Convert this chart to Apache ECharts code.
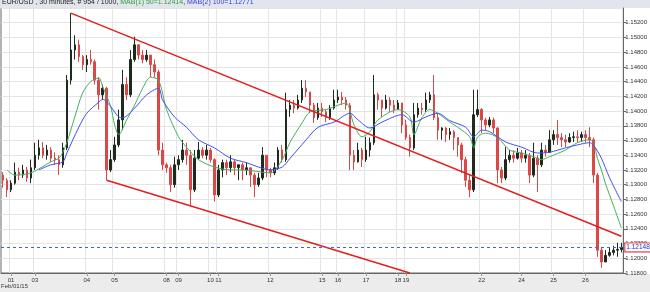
<!DOCTYPE html>
<html><head><meta charset="utf-8">
<script src="https://cdn.jsdelivr.net/npm/echarts@6/dist/echarts.min.js"></script>
<style>html,body{margin:0;padding:0;background:#fff}#c{width:650px;height:292px}</style>
</head><body><div id="c"></div>
<script>
// candles: [open, close, low, high]
const candles = [
[1.1313,1.1306,1.1296,1.1317],[1.1306,1.1293,1.1283,1.1309],[1.1293,1.1302,1.1290,1.1306],[1.1302,1.1317,1.1300,1.1330],
[1.1317,1.1313,1.1306,1.1323],[1.1313,1.1320,1.1309,1.1327],[1.1320,1.1309,1.1304,1.1324],[1.1309,1.1323,1.1302,1.1334],
[1.1323,1.1340,1.1320,1.1357],[1.1340,1.1350,1.1334,1.1361],[1.1350,1.1340,1.1336,1.1358],[1.1340,1.1347,1.1334,1.1354],
[1.1347,1.1336,1.1331,1.1351],[1.1336,1.1334,1.1327,1.1344],[1.1334,1.1327,1.1313,1.1340],[1.1327,1.1350,1.1323,1.1357],
[1.1350,1.1442,1.1347,1.1449],[1.1442,1.1483,1.1436,1.1533],[1.1483,1.1490,1.1470,1.1503],[1.1490,1.1474,1.1467,1.1497],
[1.1474,1.1463,1.1456,1.1476],[1.1463,1.1470,1.1453,1.1476],[1.1470,1.1467,1.1463,1.1483],[1.1467,1.1442,1.1436,1.1470],
[1.1442,1.1422,1.1402,1.1446],[1.1422,1.1431,1.1415,1.1436],[1.1431,1.1320,1.1306,1.1433],[1.1320,1.1334,1.1317,1.1347],
[1.1334,1.1354,1.1331,1.1365],[1.1354,1.1388,1.1351,1.1402],[1.1388,1.1436,1.1374,1.1456],[1.1436,1.1422,1.1415,1.1446],
[1.1422,1.1470,1.1419,1.1483],[1.1470,1.1490,1.1467,1.1501],[1.1490,1.1476,1.1470,1.1490],[1.1476,1.1470,1.1465,1.1483],
[1.1470,1.1476,1.1467,1.1483],[1.1476,1.1463,1.1446,1.1476],[1.1463,1.1453,1.1446,1.1470],[1.1453,1.1347,1.1340,1.1456],
[1.1347,1.1327,1.1320,1.1357],[1.1327,1.1323,1.1316,1.1330],[1.1323,1.1300,1.1290,1.1327],[1.1300,1.1327,1.1296,1.1338],
[1.1327,1.1334,1.1320,1.1340],[1.1334,1.1347,1.1330,1.1361],[1.1347,1.1340,1.1327,1.1357],[1.1340,1.1293,1.1272,1.1347],
[1.1293,1.1336,1.1290,1.1347],[1.1336,1.1347,1.1334,1.1358],[1.1347,1.1340,1.1336,1.1351],[1.1340,1.1347,1.1334,1.1354],
[1.1347,1.1334,1.1330,1.1350],[1.1334,1.1286,1.1277,1.1336],[1.1286,1.1320,1.1283,1.1327],[1.1320,1.1330,1.1310,1.1334],
[1.1330,1.1323,1.1313,1.1334],[1.1323,1.1331,1.1317,1.1340],[1.1331,1.1323,1.1313,1.1334],[1.1323,1.1327,1.1306,1.1327],
[1.1327,1.1320,1.1306,1.1330],[1.1320,1.1323,1.1313,1.1330],[1.1323,1.1313,1.1297,1.1323],[1.1313,1.1300,1.1283,1.1316],
[1.1300,1.1309,1.1297,1.1316],[1.1309,1.1340,1.1306,1.1351],[1.1340,1.1320,1.1310,1.1340],[1.1320,1.1316,1.1310,1.1323],
[1.1316,1.1323,1.1313,1.1330],[1.1323,1.1347,1.1320,1.1351],[1.1347,1.1334,1.1330,1.1354],[1.1334,1.1402,1.1331,1.1425],
[1.1402,1.1408,1.1392,1.1415],[1.1408,1.1404,1.1397,1.1415],[1.1404,1.1415,1.1402,1.1422],[1.1415,1.1431,1.1411,1.1442],
[1.1431,1.1426,1.1419,1.1442],[1.1426,1.1408,1.1397,1.1426],[1.1408,1.1391,1.1384,1.1411],[1.1391,1.1404,1.1388,1.1411],
[1.1404,1.1399,1.1392,1.1411],[1.1399,1.1391,1.1385,1.1402],[1.1391,1.1404,1.1388,1.1408],[1.1404,1.1415,1.1402,1.1429],
[1.1415,1.1419,1.1411,1.1429],[1.1419,1.1415,1.1408,1.1426],[1.1415,1.1408,1.1402,1.1419],[1.1408,1.1340,1.1320,1.1411],
[1.1340,1.1331,1.1320,1.1347],[1.1331,1.1347,1.1330,1.1357],[1.1347,1.1334,1.1324,1.1350],[1.1334,1.1347,1.1331,1.1365],
[1.1347,1.1357,1.1338,1.1364],[1.1357,1.1422,1.1354,1.1449],[1.1422,1.1415,1.1402,1.1425],[1.1415,1.1404,1.1392,1.1415],
[1.1404,1.1415,1.1402,1.1422],[1.1415,1.1408,1.1399,1.1419],[1.1408,1.1402,1.1397,1.1415],[1.1402,1.1411,1.1402,1.1415],
[1.1411,1.1381,1.1370,1.1411],[1.1381,1.1364,1.1361,1.1388],[1.1364,1.1350,1.1338,1.1368],[1.1350,1.1395,1.1347,1.1411],
[1.1395,1.1404,1.1391,1.1411],[1.1404,1.1402,1.1395,1.1411],[1.1402,1.1415,1.1399,1.1425],[1.1415,1.1422,1.1411,1.1426],
[1.1422,1.1391,1.1388,1.1449],[1.1391,1.1374,1.1361,1.1397],[1.1374,1.1377,1.1361,1.1378],[1.1377,1.1368,1.1358,1.1378],
[1.1368,1.1372,1.1361,1.1377],[1.1372,1.1364,1.1347,1.1374],[1.1364,1.1354,1.1338,1.1364],[1.1354,1.1334,1.1316,1.1357],
[1.1334,1.1306,1.1297,1.1338],[1.1306,1.1293,1.1283,1.1313],[1.1293,1.1395,1.1290,1.1429],[1.1395,1.1402,1.1392,1.1429],
[1.1402,1.1388,1.1370,1.1404],[1.1388,1.1381,1.1374,1.1391],[1.1381,1.1388,1.1378,1.1392],[1.1388,1.1377,1.1370,1.1391],
[1.1377,1.1320,1.1302,1.1378],[1.1320,1.1309,1.1302,1.1324],[1.1309,1.1334,1.1306,1.1351],[1.1334,1.1340,1.1330,1.1347],
[1.1340,1.1336,1.1330,1.1347],[1.1336,1.1343,1.1334,1.1350],[1.1343,1.1336,1.1330,1.1347],[1.1336,1.1340,1.1330,1.1347],
[1.1340,1.1313,1.1302,1.1343],[1.1313,1.1336,1.1310,1.1357],[1.1336,1.1327,1.1290,1.1340],[1.1327,1.1347,1.1324,1.1357],
[1.1347,1.1344,1.1338,1.1354],[1.1344,1.1361,1.1343,1.1374],[1.1361,1.1368,1.1354,1.1374],[1.1368,1.1364,1.1354,1.1388],
[1.1364,1.1361,1.1351,1.1370],[1.1361,1.1358,1.1351,1.1368],[1.1358,1.1364,1.1357,1.1370],[1.1364,1.1365,1.1358,1.1372],
[1.1365,1.1364,1.1357,1.1374],[1.1364,1.1368,1.1358,1.1372],[1.1368,1.1364,1.1357,1.1374],[1.1364,1.1361,1.1351,1.1378],
[1.1361,1.1313,1.1302,1.1364],[1.1313,1.1211,1.1202,1.1316],[1.1211,1.1195,1.1187,1.1215],[1.1195,1.1204,1.1195,1.1211],
[1.1204,1.1208,1.1202,1.1215],[1.1208,1.1211,1.1204,1.1217],[1.1211,1.1212,1.1202,1.1221],[1.1212,1.12148,1.1208,1.1221]
];
// moving averages: [candle index, value]
const ma50 = [
[1,1.1320],[3,1.1313],[7,1.1316],[12,1.1331],[14,1.1336],[15,1.1344],[16,1.1357],[18,1.1392],[20,1.1425],[22,1.1440],
[24,1.1445],[25,1.1433],[27,1.1406],[28,1.1381],[29,1.1368],[31,1.1388],[33,1.1408],[35,1.1431],[37,1.1446],[39,1.1442],
[41,1.1402],[44,1.1365],[46,1.1351],[49,1.1334],[53,1.1324],[57,1.1320],[60,1.1320],[67,1.1316],[70,1.1334],[72,1.1358],
[75,1.1384],[77,1.1399],[81,1.1402],[84,1.1408],[86,1.1411],[88,1.1381],[90,1.1365],[92,1.1372],[94,1.1388],[99,1.1402],
[102,1.1392],[103,1.1368],[105,1.1391],[107,1.1402],[109,1.1397],[112,1.1385],[114,1.1378],[117,1.1365],[118,1.1350],
[119,1.1365],[121,1.1370],[124,1.1364],[127,1.1347],[130,1.1343],[133,1.1338],[135,1.1334],[137,1.1338],[141,1.1347],
[144,1.1357],[147,1.1361],[148,1.1357],[149,1.1336],[150,1.1320],[151,1.1302],[153,1.1272],[155,1.12414]
];
const ma100 = [
[9,1.1320],[12,1.1327],[15,1.1331],[16,1.1343],[19,1.1378],[21,1.1397],[24,1.1412],[25,1.1416],[27,1.1406],[29,1.1392],
[30,1.1391],[33,1.1404],[36,1.1422],[39,1.1431],[40,1.1415],[43,1.1392],[46,1.1378],[49,1.1361],[53,1.1350],[57,1.1336],
[61,1.1330],[64,1.1324],[67,1.1320],[70,1.1324],[72,1.1336],[76,1.1361],[79,1.1378],[83,1.1385],[87,1.1397],[89,1.1388],
[92,1.1377],[95,1.1385],[100,1.1395],[103,1.1385],[106,1.1392],[109,1.1397],[112,1.1387],[116,1.1378],[118,1.1365],
[120,1.1374],[122,1.1372],[126,1.1358],[130,1.1351],[134,1.1343],[137,1.1344],[141,1.1350],[144,1.1354],[147,1.1357],
[148,1.1354],[150,1.1336],[152,1.1310],[155,1.12771]
];
const trendUpper = [[17,1.1533],[155,1.1230]];
const trendLower = [[26,1.1306],[102,1.1180]];
const lastPrice = 1.12148;
const dayLabels = ['01','03','04','05','08','09','10','11','12','15','16','17','18','19','22','24','25','26'];
const dayTickIndex = [2,8,21,28,41,44,52,54,67,80,84,91,99,101,120,130,138,146];
const yMin = 1.118, yMax = 1.154, yStep = 0.002;

const cats = candles.map((_, i) => String(i));
const tickMap = new Map(dayTickIndex.map((idx, k) => [idx, dayLabels[k]]));
const isTick = (i) => tickMap.has(i);
const FONT = 'Liberation Sans, Arial, sans-serif';

const chart = echarts.init(document.getElementById('c'), null, {renderer: 'canvas'});
chart.setOption({
  animation: false,
  backgroundColor: '#fff',
  graphic: [
    {type: 'rect', z: 0, shape: {x: 0, y: 0, width: 650, height: 8}, style: {fill: '#e3e5ec'}},
    {type: 'rect', z: 0, shape: {x: 0, y: 274, width: 650, height: 18}, style: {fill: '#ececec'}}
  ],
  title: [
    {left: 2, top: -1, padding: 0,
     text: '{k|EUR/USD , 30 minutes, # 954 / 1000, }{g|MAB(1) 50=1.12414}{k|, }{b|MAB(2) 100=1.12771}',
     textStyle: {fontSize: 7, fontFamily: FONT, fontWeight: 'normal',
       rich: {k: {color: '#222', fontSize: 7, fontFamily: FONT},
              g: {color: '#2e9a3e', fontSize: 7, fontFamily: FONT},
              b: {color: '#3040e0', fontSize: 7, fontFamily: FONT}}}},
    {left: 1, top: 283, padding: 0, text: 'Feb/01/15',
     textStyle: {fontSize: 6, fontFamily: FONT, fontWeight: 'normal', color: '#333'}}
  ],
  grid: {left: 1, right: 26, top: 8, bottom: 19, show: true, borderColor: '#666', borderWidth: 1, backgroundColor: '#fff'},
  xAxis: {
    type: 'category', data: cats, boundaryGap: true,
    axisLine: {show: true, lineStyle: {color: '#666'}},
    axisTick: {show: true, alignWithLabel: true, interval: isTick, length: 3, lineStyle: {color: '#999'}},
    axisLabel: {interval: isTick, formatter: (v, i) => tickMap.get(i) || '', fontSize: 6, fontFamily: FONT, color: '#333', margin: 4},
    splitLine: {show: true, interval: isTick, lineStyle: {color: '#e4e4e4', width: 1}}
  },
  yAxis: {
    type: 'value', position: 'right', min: yMin, max: yMax, interval: yStep,
    axisLine: {show: true, lineStyle: {color: '#666'}},
    axisTick: {show: true, length: 3, lineStyle: {color: '#666'}},
    axisLabel: {formatter: v => v.toFixed(5), fontSize: 6, fontFamily: FONT, color: '#333', margin: 2, showMaxLabel: false},
    splitLine: {show: true, lineStyle: {color: '#e4e4e4', width: 1}}
  },
  series: [
    {type: 'candlestick', data: candles, barWidth: 2,
     itemStyle: {color: '#1f2a1f', color0: '#e04848', borderColor: '#1f2a1f', borderColor0: '#d84848', borderWidth: 1}},
    {type: 'line', data: ma50, symbol: 'none', smooth: 0.3, lineStyle: {color: '#44b060', width: 1}, z: 3},
    {type: 'line', data: ma100, symbol: 'none', smooth: 0.3, lineStyle: {color: '#4050ee', width: 1}, z: 3},
    {type: 'line', data: trendUpper, symbol: 'none', lineStyle: {color: '#e02020', width: 1.5}, z: 4,
     markLine: {symbol: 'none', silent: true, animation: false, precision: 5,
       data: [{yAxis: lastPrice}],
       lineStyle: {color: '#4a5cf0', type: [3, 3], width: 1, opacity: 1},
       label: {show: true, position: 'end', distance: 2, formatter: lastPrice.toFixed(5),
         fontSize: 6.5, fontFamily: FONT, color: '#2a2acc', backgroundColor: '#fff',
         borderColor: '#e03030', borderWidth: 1, padding: [1, 1, 0, 1]}}},
    {type: 'line', data: trendLower, symbol: 'none', lineStyle: {color: '#e02020', width: 1.5}, z: 4}
  ]
});
</script></body></html>
